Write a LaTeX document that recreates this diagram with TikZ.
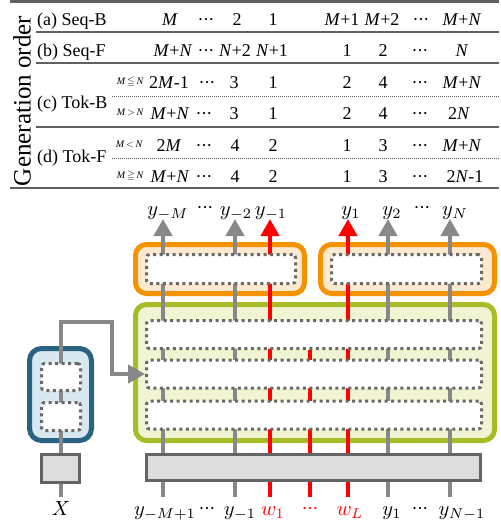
\documentclass[tikz,border=0pt]{standalone}
\usepackage{amssymb}
\usepackage{fontspec}
\setmainfont{Liberation Serif}
\usetikzlibrary{arrows.meta}
\pgfdeclarelayer{bg}
\pgfdeclarelayer{mid}
\pgfsetlayers{bg,mid,main}
\definecolor{lgray}{RGB}{136,136,136}
\definecolor{dotgray}{RGB}{105,105,105}
\definecolor{orgB}{RGB}{245,146,0}
\definecolor{orgF}{RGB}{253,233,208}
\definecolor{grnB}{RGB}{168,188,40}
\definecolor{grnF}{RGB}{240,244,210}
\definecolor{bluB}{RGB}{42,98,130}
\definecolor{bluF}{RGB}{215,232,241}
\definecolor{barF}{RGB}{221,221,221}
\definecolor{barB}{RGB}{100,100,100}
\definecolor{tabL}{RGB}{96,96,96}
\definecolor{myred}{RGB}{255,0,0}
\newcommand{\mydots}{·\kern-0.6pt·\kern-0.6pt·}
\newcommand{\iM}{\textit{M}}
\newcommand{\iN}{\textit{N}}
\begin{document}
\begin{tikzpicture}[x=1pt,y=-1pt,
  tabtxt/.style={anchor=base, inner sep=0pt, font=\fontsize{18}{18}\selectfont},
  rowlbl/.style={anchor=base west, inner sep=0pt, font=\fontsize{18}{18}\selectfont},
  cond/.style={anchor=base east, inner sep=0pt, font=\fontsize{10}{10}\selectfont},
  dlbl/.style={anchor=base, inner sep=0pt, font=\normalsize, scale=2.05},
  dotlbl/.style={anchor=base, inner sep=0pt, font=\fontsize{18}{18}\selectfont},
  inbox/.style={draw=dotgray, line width=3pt, dash pattern=on 3pt off 3.5pt, fill=white, rounded corners=3pt, inner sep=0pt},
  outbox/.style={line width=5pt, rounded corners=11pt, inner sep=0pt},
  graybox/.style={draw=barB, fill=barF, line width=3pt, inner sep=0pt},
  colg/.style={draw=lgray, line width=4.5pt},
  colr/.style={draw=myred, line width=4.5pt},
  tip/.style={-{Triangle[width=18pt,length=17pt]}},
  tabline/.style={draw=tabL, line width=2pt},
  tabdot/.style={draw=tabL, line width=0.8pt, dash pattern=on 1pt off 1pt}
]
\useasboundingbox (0,0) rectangle (501,520);

% ---------------- table ----------------
\node[rotate=90, inner sep=0pt, font=\fontsize{25}{25}\selectfont] (gen) at (22,101) {Generation order};

\node[rowlbl] (la) at (37,25) {(a) Seq-B};
\node[rowlbl] (lb) at (37,56) {(b) Seq-F};
\node[rowlbl] (lc) at (37,108) {(c) Tok-B};
\node[rowlbl] (ld) at (37,162) {(d) Tok-F};

\node[cond] (c1) at (144,84) {\iM\,$\leqq$\,\iN};
\node[cond] (c2) at (144,115) {\iM\,$>$\,\iN};
\node[cond] (c3) at (143,147) {\iM\,$<$\,\iN};
\node[cond] (c4) at (144,178) {\iM\,$\geqq$\,\iN};

\foreach \px/\py/\t [count=\i] in {
  170/25/\iM, 206/25/\mydots, 237/25/2, 273/25/1, 342/25/\iM+1, 382/25/\iM+2, 421/25/\mydots, 462/25/\iM+\iN,
  173/56/\iM+\iN, 206/56/\mydots, 235/56/\iN+2, 272/56/\iN+1, 347/56/1, 383/56/2, 420/56/\mydots, 462/56/\iN,
  169/88/2\iM-1, 207/88/\mydots, 234/88/3, 273/88/1, 347/88/2, 383/88/4, 420/88/\mydots, 462/88/\iM+\iN,
  170/119/\iM+\iN, 204/119/\mydots, 234/119/3, 273/119/1, 347/119/2, 383/119/4, 420/119/\mydots, 459/119/2\iN,
  169/151/2\iM, 204/151/\mydots, 235/151/4, 273/151/2, 347/151/1, 383/151/3, 420/151/\mydots, 462/151/\iM+\iN,
  170/182/\iM+\iN, 204/182/\mydots, 235/182/4, 273/182/2, 347/182/1, 383/182/3, 420/182/\mydots, 465/182/2\iN-1}
  \node[tabtxt] (tab\i) at (\px,\py) {\t};

\draw[tabL, line width=2.5pt] (10,1.3) -- (499,1.3);
\draw[tabline] (36,32) -- (499,32);
\draw[tabline] (36,63) -- (499,63);
\draw[tabdot] (112,96) -- (499,96);
\draw[tabline] (36,127) -- (499,127);
\draw[tabdot] (112,158) -- (499,158);
\draw[tabline] (10,188) -- (499,188);

% ---------------- diagram: main-layer boxes ----------------
\node[inbox, minimum width=149pt, minimum height=29pt] (oi1) at (221,269) {};
\node[inbox, minimum width=150pt, minimum height=29pt] (oi2) at (406.5,269) {};
\node[inbox, minimum width=335pt, minimum height=28pt] (g1) at (314,334.5) {};
\node[inbox, minimum width=335pt, minimum height=28pt] (g2) at (314,374) {};
\node[inbox, minimum width=335pt, minimum height=28pt] (g3) at (314,415) {};
\node[graybox, minimum width=334pt, minimum height=26pt] (emb) at (313.5,467.5) {};
\node[inbox, minimum width=39pt, minimum height=27pt] (bA) at (61,377) {};
\node[inbox, minimum width=39pt, minimum height=28pt] (bB) at (61,416.5) {};
\node[graybox, minimum width=38pt, minimum height=28pt] (xb) at (60.5,468.5) {};

% labels
\node[dlbl] (tyM) at (168,215) {$y_{-M}$};
\node[dotlbl] (td1) at (205,213) {\mydots};
\node[dlbl] (ty2m) at (236,215) {$y_{-2}$};
\node[dlbl] (ty1m) at (271,215) {$y_{-1}$};
\node[dlbl] (ty1) at (351,215) {$y_{1}$};
\node[dlbl] (ty2) at (392,215) {$y_{2}$};
\node[dotlbl] (td2) at (422,213) {\mydots};
\node[dlbl] (tyN) at (455,215) {$y_{N}$};

\node[dlbl] (bX) at (61,515) {$X$};
\node[dlbl] (byM) at (165,515) {$y_{-M+1}$};
\node[dotlbl] (bd1) at (207,514) {\mydots};
\node[dlbl] (by1m) at (240,515) {$y_{-1}$};
\node[dlbl, text=myred] (bw1) at (273,515) {$w_{1}$};
\node[dotlbl, text=myred] (bdw) at (310,514) {\mydots};
\node[dlbl, text=myred] (bwL) at (350,515) {$w_{L}$};
\node[dlbl] (by1) at (392,515) {$y_{1}$};
\node[dotlbl] (bd2) at (420,514) {\mydots};
\node[dlbl] (byN) at (462,515) {$y_{N-1}$};

% ---------------- background: outer boxes ----------------
\begin{pgfonlayer}{bg}
\node[outbox, draw=orgB, fill=orgF, minimum width=169pt, minimum height=49pt] (ob1) at (220,269) {};
\node[outbox, draw=orgB, fill=orgF, minimum width=174pt, minimum height=49pt] (ob2) at (407.5,269) {};
\node[outbox, draw=grnB, fill=grnF, minimum width=359pt, minimum height=136pt] (gb) at (315,372.5) {};
\node[outbox, draw=bluB, fill=bluF, rounded corners=12pt, minimum width=62pt, minimum height=92pt] (bb) at (60.5,394.5) {};
\end{pgfonlayer}

% ---------------- middle: columns and connector ----------------
\begin{pgfonlayer}{mid}
\foreach \cx [count=\k] in {163,235,270,348,388,450}{
  \coordinate (cb\k) at (\cx,497);
  \coordinate (ct\k) at (\cx,219);
}
\coordinate (cb7) at (310,497);
\draw[colg, tip] (cb1) -- (ct1);
\draw[colg, tip] (cb2) -- (ct2);
\draw[colr, tip] (cb3) -- (ct3);
\draw[colr, tip] (cb4) -- (ct4);
\draw[colg, tip] (cb5) -- (ct5);
\draw[colg, tip] (cb6) -- (ct6);
\draw[colr] (cb7) -- (g1.south -| cb7);
\coordinate (xbot) at (61,497);
\draw[colg] (xbot) -- (bA.north);
\draw[colg, tip] (bA.north) -- ++(0,-40) -| ([xshift=-33pt]g2.west) -- (g2.west);
\end{pgfonlayer}
\end{tikzpicture}
\end{document}
